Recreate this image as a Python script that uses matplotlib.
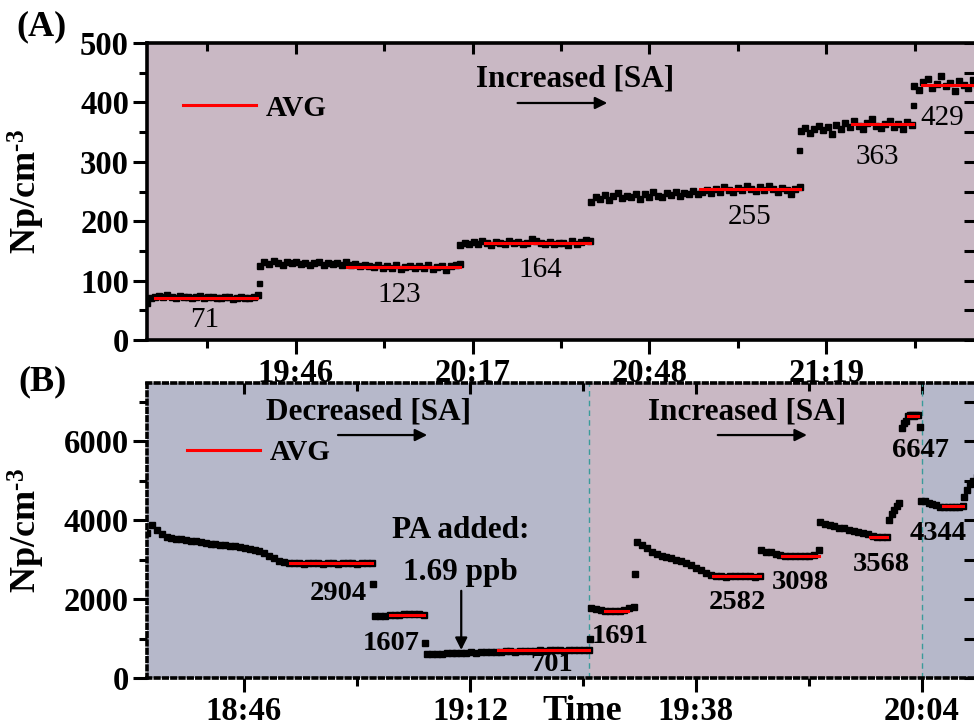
import numpy as np
import matplotlib.pyplot as plt
from matplotlib.lines import Line2D
from matplotlib.ticker import FuncFormatter, FixedLocator

plt.rcParams['font.family'] = 'Liberation Serif'
plt.rcParams['font.weight'] = 'bold'
plt.rcParams['mathtext.fontset'] = 'custom'
plt.rcParams['mathtext.rm'] = 'Liberation Serif'
plt.rcParams['mathtext.default'] = 'rm'

# time is minutes after midnight, values in Np/cm^-3

# ---- panel (A): increasing SA ----
a_seg_times = [(1159.9, 1179.3), (1179.7, 1214.8), (1214.8, 1237.6),
               (1237.8, 1274.4), (1274.6, 1294.0), (1294.4, 1305.5)]
a_seg1 = [63, 70, 73, 74, 72, 75, 73, 71, 74, 72, 73, 70, 72, 74, 71, 73, 72, 70, 71, 73,
          72, 69, 71, 72, 70, 71, 73, 75]
a_seg2 = [124, 131, 128, 133, 130, 127, 131, 129, 132, 128, 130, 127, 129, 131, 126, 129,
          128, 130, 127, 132, 126, 128, 125, 127, 124, 123, 126, 121, 124, 122, 127, 120,
          123, 125, 121, 124, 122, 126, 120, 123, 125, 118, 124, 126, 128]
a_seg3 = [160, 163, 161, 165, 162, 166, 163, 160, 165, 164, 162, 167, 163, 165, 161, 164,
          170, 166, 163, 162, 165, 161, 164, 163, 160, 166, 162, 165, 168, 166]
a_seg4 = [232, 241, 238, 244, 236, 242, 247, 239, 243, 240, 245, 238, 246, 241, 249, 243,
          240, 247, 244, 250, 242, 248, 245, 251, 246, 249, 252, 247, 255, 250, 258, 253,
          249, 256, 252, 260, 254, 251, 257, 253, 259, 255, 250, 256, 252, 245, 254, 257]
a_seg5 = [352, 357, 349, 355, 360, 353, 358, 346, 362, 356, 365, 359, 368, 361, 355, 366,
          372, 360, 357, 364, 369, 358, 363, 355, 367, 362]
a_seg6 = [428, 421, 434, 440, 425, 431, 444, 427, 433, 419, 436, 429, 424, 438, 430]
a_values = [a_seg1, a_seg2, a_seg3, a_seg4, a_seg5, a_seg6]
a_extra_t = [1179.5, 1274.3, 1294.2]
a_extra_v = [96, 320, 396]

a_avg = [71, 123, 164, 255, 363, 429]
a_avg_times = [(1161.3, 1179.2), (1194.9, 1214.8), (1219.2, 1237.6),
               (1256.9, 1274.4), (1283.5, 1294.2), (1295.8, 1306.0)]
a_label_pos = [(1170.0, 34), (1204.2, 76), (1228.8, 118), (1265.6, 207), (1287.9, 308), (1299.3, 374)]

# ---- panel (B): decreasing then increasing SA ----
b_seg_times = [(1114.84, 1140.73), (1141.07, 1146.71), (1147.06, 1165.70),
               (1165.93, 1170.88), (1171.22, 1185.38), (1185.50, 1192.17),
               (1192.29, 1200.00), (1200.23, 1201.38), (1201.72, 1203.79),
               (1203.91, 1208.74), (1208.86, 1210.3)]
b_seg1 = [3670, 3870, 3760, 3640, 3580, 3550, 3530, 3510, 3490, 3470, 3460, 3440, 3420,
          3400, 3390, 3380, 3370, 3350, 3330, 3310, 3290, 3270, 3250, 3220, 3160, 3090,
          3030, 2970, 2930, 2910, 2900, 2910, 2890, 2905, 2915, 2900, 2895, 2910, 2905,
          2890, 2900, 2915, 2905, 2895, 2900, 2910, 2905]
b_seg2 = [1560, 1570, 1580, 1590, 1600, 1605, 1610, 1615, 1620, 1610, 1600]
b_seg3 = [610, 600, 620, 615, 625, 630, 625, 640, 635, 650, 645, 660, 655, 665, 670, 660,
          675, 680, 670, 685, 690, 680, 695, 700, 690, 705, 700, 710, 695, 705, 715, 700,
          710, 705]
b_seg4 = [1770, 1740, 1710, 1700, 1690, 1690, 1700, 1720, 1760, 1800]
b_seg5 = [3450, 3380, 3290, 3200, 3150, 3100, 3060, 3030, 3000, 2960, 2900, 2850, 2790,
          2730, 2670, 2620, 2590, 2580, 2570, 2590, 2580, 2575, 2590, 2580, 2570, 2585]
b_seg6 = [3250, 3200, 3180, 3150, 3110, 3090, 3080, 3090, 3100, 3080, 3090, 3110, 3230]
b_seg7 = [3960, 3900, 3870, 3840, 3810, 3790, 3760, 3730, 3700, 3670, 3640, 3600, 3570,
          3565, 3570]
b_seg8 = [4000, 4150, 4250, 4350, 4420]
b_seg9 = [6330, 6450, 6520, 6640, 6660, 6650, 6640, 6660, 6650, 6350]
b_seg10 = [4470, 4480, 4440, 4400, 4370, 4340, 4330, 4320, 4330, 4340, 4330, 4350]
b_seg11 = [4580, 4750, 4900, 5000, 5100]
b_values = [b_seg1, b_seg2, b_seg3, b_seg4, b_seg5, b_seg6, b_seg7, b_seg8, b_seg9,
            b_seg10, b_seg11]
b_extra_t = [1140.84, 1146.80, 1165.82, 1171.0]
b_extra_v = [2380, 886, 1000, 2630]

b_avg = [2904, 1607, 701, 1691, 2582, 3098, 3568, 6647, 4344]
b_avg_times = [(1131.3, 1140.7), (1142.8, 1146.7), (1155.2, 1165.7), (1167.5, 1170.2),
               (1180.0, 1185.4), (1187.9, 1192.2), (1198.0, 1200.0), (1202.4, 1203.6),
               (1206.4, 1208.7)]
b_label_pos = [(1136.8, 2152), (1143.0, 886), (1161.4, 330), (1169.3, 1040), (1182.8, 1924),
               (1190.0, 2430), (1199.3, 2886), (1203.9, 5772), (1205.9, 3670)]
b_switch = [1165.70, 1204.02]

a_major = [1186, 1217, 1248, 1279]
b_major = [1126, 1152, 1178, 1204]

mauve = '#c9b8c4'
bluegrey = '#b6b8ca'


def hhmm(m, pos=None):
    m = int(round(m))
    return f"{m // 60}:{m % 60:02d}"


def style_axes(ax, major, step_minor_y, dotted=False):
    half = (major[1] - major[0]) / 2
    minors = [t - half for t in major] + [major[-1] + half]
    ax.xaxis.set_major_locator(FixedLocator(major))
    ax.xaxis.set_minor_locator(FixedLocator(minors))
    ax.xaxis.set_major_formatter(FuncFormatter(hhmm))
    ax.yaxis.set_minor_locator(plt.MultipleLocator(step_minor_y))
    ax.tick_params(which='major', direction='out', length=10, width=2.2, labelsize=23.5, pad=3)
    ax.tick_params(which='minor', direction='out', length=6, width=2.2)
    for s in ax.spines.values():
        s.set_linewidth(2.6)
        if dotted:
            s.set_linestyle((0, (1.0, 1.3)))
            s.set_zorder(3)
    top = ax.secondary_xaxis('top')
    top.xaxis.set_major_locator(FixedLocator(major))
    top.xaxis.set_minor_locator(FixedLocator(minors))
    top.tick_params(which='both', direction='in', width=2.2, labeltop=False)
    top.tick_params(which='major', length=8)
    top.tick_params(which='minor', length=6)
    top.spines['top'].set_visible(False)
    right = ax.secondary_yaxis('right')
    right.yaxis.set_major_locator(FixedLocator(list(ax.get_yticks())))
    right.yaxis.set_minor_locator(plt.MultipleLocator(step_minor_y))
    right.tick_params(which='both', direction='in', width=2.2, length=8, labelright=False)
    right.spines['right'].set_visible(False)
    for lab in ax.get_xticklabels() + ax.get_yticklabels():
        lab.set_fontweight('bold')


fig = plt.figure(figsize=(9.74, 7.27), dpi=100)
axA = fig.add_axes([147 / 974, 1 - 340 / 727, 828 / 974, 297 / 727])
axB = fig.add_axes([147 / 974, 1 - 678 / 727, 828 / 974, 295 / 727])

# ---- panel A ----
axA.set_facecolor(mauve)
for (t0, t1), vals in zip(a_seg_times, a_values):
    axA.plot(np.linspace(t0, t1, len(vals)), vals, 's', color='black', ms=3.8)
axA.plot(a_extra_t, a_extra_v, 's', color='black', ms=3.6)
for (t0, t1), v in zip(a_avg_times, a_avg):
    axA.plot([t0, t1], [v, v], color='red', lw=2.2)
for (x, y), v in zip(a_label_pos, a_avg):
    axA.text(x, y, str(v), ha='center', va='center', fontsize=21, fontweight='normal')
axA.set_xlim(1159.9, 1305.1)
axA.set_ylim(0, 500)
axA.set_yticks([0, 100, 200, 300, 400, 500])
axA.text(1234.9, 440, 'Increased [SA]', ha='center', va='center', fontsize=22.5)
axA.annotate('', xy=(1241.1, 399), xytext=(1224.4, 399),
             arrowprops=dict(arrowstyle='-|>', color='black', lw=1.6, mutation_scale=18))
axA.legend(handles=[Line2D([], [], color='red', lw=2.2)], labels=['AVG'],
           loc='center left', bbox_to_anchor=(0.0435, 0.781), frameon=False,
           borderpad=0, borderaxespad=0, handlelength=2.5, handletextpad=0.35,
           prop={'size': 21, 'weight': 'bold'})
axA.set_ylabel(r'Np/cm$^{\text{-3}}$', fontsize=26, fontweight='bold')
axA.yaxis.set_label_coords(-0.121, 0.5)
style_axes(axA, a_major, 50)

# ---- panel B ----
axB.set_facecolor(bluegrey)
axB.axvspan(b_switch[0], b_switch[1], color=mauve, lw=0, zorder=0)
for xs in b_switch:
    axB.axvline(xs, color='#3a9b9b', lw=1.0, ls=(0, (4, 3)), zorder=1)
for (t0, t1), vals in zip(b_seg_times, b_values):
    axB.plot(np.linspace(t0, t1, len(vals)), vals, 's', color='black', ms=4.2)
axB.plot(b_extra_t, b_extra_v, 's', color='black', ms=3.8)
for (t0, t1), v in zip(b_avg_times, b_avg):
    axB.plot([t0, t1], [v, v], color='red', lw=2.2)
for (x, y), v in zip(b_label_pos, b_avg):
    axB.text(x, y, str(v), ha='center', va='center', fontsize=20.5, fontweight='bold')
axB.set_xlim(1114.84, 1210.12)
axB.set_ylim(0, 7470)
axB.set_yticks([0, 2000, 4000, 6000])
axB.text(1140.3, 6734, 'Decreased [SA]', ha='center', va='center', fontsize=22.5)
axB.annotate('', xy=(1147.4, 6152), xytext=(1136.5, 6152),
             arrowprops=dict(arrowstyle='-|>', color='black', lw=1.6, mutation_scale=18))
axB.text(1183.9, 6734, 'Increased [SA]', ha='center', va='center', fontsize=22.5)
axB.annotate('', xy=(1191.1, 6152), xytext=(1180.2, 6152),
             arrowprops=dict(arrowstyle='-|>', color='black', lw=1.6, mutation_scale=18))
axB.text(1150.9, 3747, 'PA added:', ha='center', va='center', fontsize=22.5)
axB.text(1150.9, 2684, '1.69 ppb', ha='center', va='center', fontsize=22.5)
axB.annotate('', xy=(1151.0, 640), xytext=(1151.0, 2278),
             arrowprops=dict(arrowstyle='-|>', color='black', lw=1.6, mutation_scale=18))
axB.legend(handles=[Line2D([], [], color='red', lw=2.2)], labels=['AVG'],
           loc='center left', bbox_to_anchor=(0.0483, 0.763), frameon=False,
           borderpad=0, borderaxespad=0, handlelength=2.5, handletextpad=0.35,
           prop={'size': 21, 'weight': 'bold'})
axB.set_ylabel(r'Np/cm$^{\text{-3}}$', fontsize=26, fontweight='bold')
axB.yaxis.set_label_coords(-0.121, 0.5)
style_axes(axB, b_major, 1000, dotted=True)

fig.text(42 / 974, 1 - 27 / 727, '(A)', ha='center', va='center', fontsize=26)
fig.text(42 / 974, 1 - 382 / 727, '(B)', ha='center', va='center', fontsize=26)
fig.text(582 / 974, 1 - 712 / 727, 'Time', ha='center', va='center', fontsize=26)

fig.savefig('out.png', dpi=100)
